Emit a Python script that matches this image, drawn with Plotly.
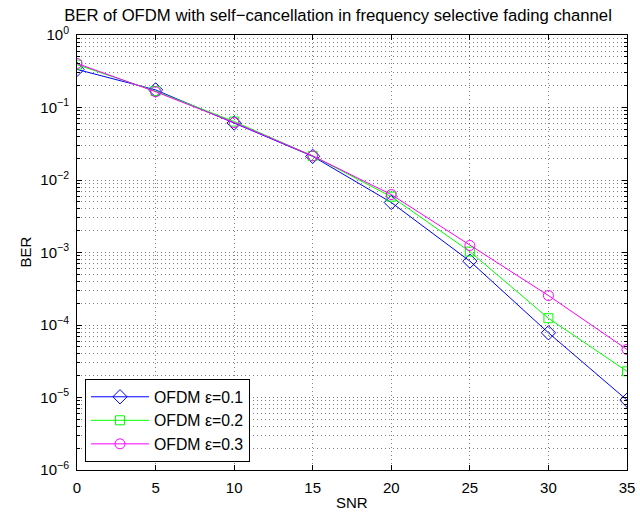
import plotly.graph_objects as go

# ---- data ----
snr = [0, 5, 10, 15, 20, 25, 30, 35]
ber_eps01 = [0.335, 0.175, 0.061, 0.0212, 0.0049, 7.6e-4, 7.8e-5, 9.2e-6]
ber_eps02 = [0.39, 0.168, 0.064, 0.0215, 0.0059, 1.03e-3, 1.24e-4, 2.3e-5]
ber_eps03 = [0.405, 0.165, 0.062, 0.0215, 0.0063, 1.25e-3, 2.55e-4, 4.6e-5]
series_names = ["OFDM \u03b5=0.1", "OFDM \u03b5=0.2", "OFDM \u03b5=0.3"]
x_ticks = [0, 5, 10, 15, 20, 25, 30, 35]
y_exps = [-6, -5, -4, -3, -2, -1, 0]

FONT = "Liberation Sans, Arial, Helvetica, sans-serif"
GRID = "rgba(0,0,0,0.5)"
DOT = "1px,3px"

W, H = 640, 515
L, R, T, B = 77, 13, 35, 45

fig = go.Figure()
styles = [
    dict(color="#0000FF", symbol="diamond-open", size=11),
    dict(color="#00FF00", symbol="square-open", size=9),
    dict(color="#FF00FF", symbol="circle-open", size=10),
]
for name, ys, st in zip(series_names, [ber_eps01, ber_eps02, ber_eps03], styles):
    fig.add_trace(go.Scatter(
        x=snr, y=ys, name=name, mode="lines+markers",
        line=dict(color=st["color"], width=1),
        marker=dict(symbol=st["symbol"], size=st["size"], color=st["color"],
                    line=dict(color=st["color"], width=1)),
    ))

y_tickvals = [10.0 ** e for e in y_exps]
y_ticktext = ["10<sup>%s</sup>" % (("\u2212%d" % -e) if e < 0 else "%d" % e) for e in y_exps]
minor_vals = [k * 10.0 ** e for e in y_exps[:-1] for k in range(2, 10)]

fig.update_layout(
    width=W, height=H,
    margin=dict(l=L, r=R, t=T, b=B, autoexpand=False),
    paper_bgcolor="white", plot_bgcolor="white",
    font=dict(family=FONT, size=15, color="black"),
    title=dict(text="BER of OFDM with self\u2212cancellation in frequency selective fading channel",
               x=338 / W, xanchor="center", y=1 - 15 / H, yanchor="middle", yref="container",
               font=dict(size=16.7, family=FONT, color="black")),
    showlegend=True,
    legend=dict(x=8 / (W - L - R), y=8 / (H - T - B), xanchor="left", yanchor="bottom",
                bgcolor="white", bordercolor="black", borderwidth=1,
                font=dict(size=15.8, family=FONT), itemwidth=58,
                tracegroupgap=0),
    xaxis=dict(
        range=[0, 35], tickmode="array", tickvals=x_ticks, automargin=False,
        showline=True, linecolor="black", linewidth=1, mirror="ticks",
        ticks="inside", ticklen=5, tickcolor="black", ticklabelstandoff=4,
        showgrid=True, gridcolor=GRID, griddash=DOT, gridwidth=1,
        zeroline=False,
        tickfont=dict(size=15),
    ),
    yaxis=dict(
        type="log", range=[-6, 0], tickmode="array", tickvals=y_tickvals, ticktext=y_ticktext,
        automargin=False,
        showline=True, linecolor="black", linewidth=1, mirror="ticks",
        ticks="inside", ticklen=5, tickcolor="black", ticklabelstandoff=4,
        showgrid=True, gridcolor=GRID, griddash=DOT, gridwidth=1,
        zeroline=False,
        minor=dict(tickmode="array", tickvals=minor_vals, ticks="inside", ticklen=3,
                   tickcolor="black", showgrid=True, gridcolor=GRID, griddash=DOT, gridwidth=1),
        tickfont=dict(size=15),
    ),
    annotations=[
        dict(text="SNR", xref="paper", yref="paper", x=0.5, y=-(503 - (H - B)) / (H - T - B),
             xanchor="center", yanchor="middle", showarrow=False, font=dict(size=15)),
        dict(text="BER", xref="paper", yref="paper", x=-(L - 25) / (W - L - R), y=0.5,
             xanchor="center", yanchor="middle", textangle=-90, showarrow=False,
             font=dict(size=15)),
    ],
)

fig.write_html("out.html", config={"displayModeBar": False})

# remove the browser's default page margin so the figure sits at the window's corner
with open("out.html", "r", encoding="utf-8") as f:
    html = f.read()
html = html.replace("<head>", "<head><style>html,body{margin:0;padding:0;overflow:hidden;}</style>", 1)
with open("out.html", "w", encoding="utf-8") as f:
    f.write(html)
